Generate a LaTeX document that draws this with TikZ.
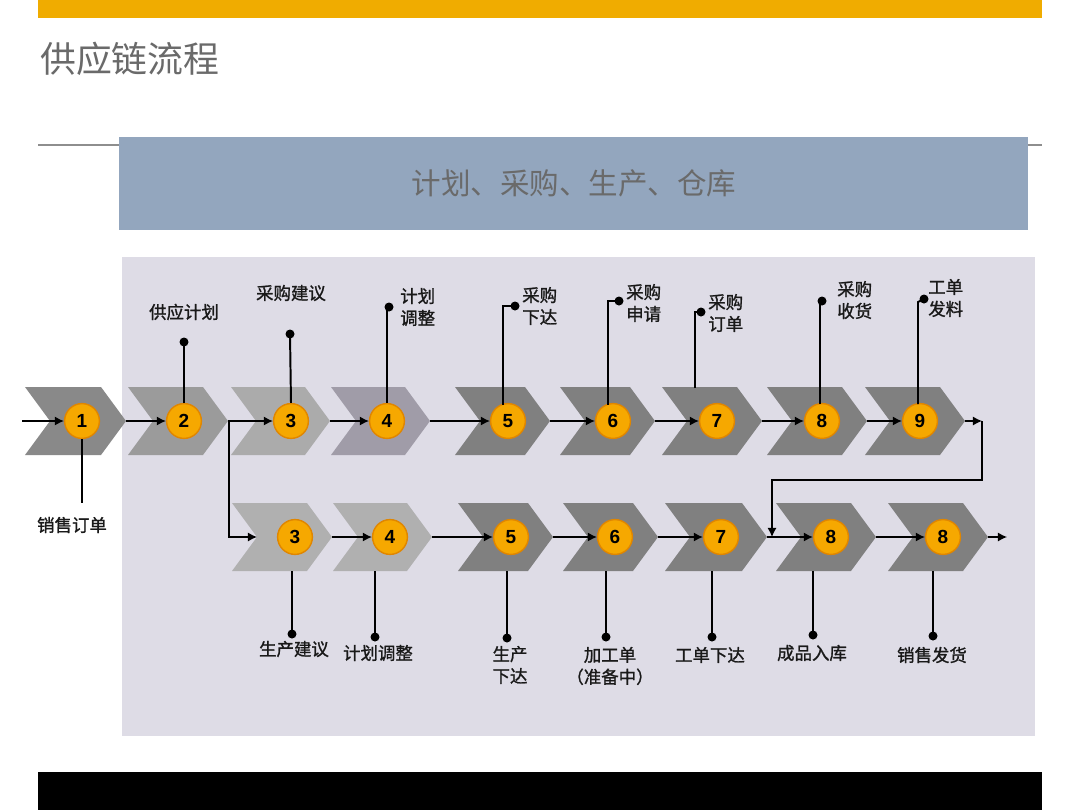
\documentclass[tikz,border=0pt]{standalone}
\usepackage{fontspec}
\setmainfont{Liberation Sans}
\newfontfamily\cjk{Noto Sans CJK SC}
\newfontfamily\cjkb{Noto Sans CJK SC}[FakeBold=1.2]
\usetikzlibrary{arrows.meta,calc}
\definecolor{topbar}{HTML}{F0AC00}
\definecolor{bluebox}{HTML}{93A6BE}
\definecolor{panel}{HTML}{DEDCE6}
\definecolor{titlegray}{HTML}{6A6A6A}
\definecolor{rulegray}{HTML}{8E8E8E}
\definecolor{chA}{HTML}{898989}
\definecolor{chB}{HTML}{9B9B9B}
\definecolor{chC}{HTML}{ABABAB}
\definecolor{chD}{HTML}{A09CA8}
\definecolor{chE}{HTML}{808080}
\definecolor{chF}{HTML}{B0B0B0}
\definecolor{numfill}{HTML}{F6A800}
\definecolor{numedge}{HTML}{E08600}
\newcommand\mychev[6]{%
  \fill[#6] (#2,#4) -- ({#3-25},#4) -- (#3,{(#4+#5)/2}) -- ({#3-25},#5) -- (#2,#5) -- ({#2+25},{(#4+#5)/2}) -- cycle;
  \coordinate (#1t) at (#3,{(#4+#5)/2});
  \coordinate (#1n) at ({#2+25},{(#4+#5)/2});
}
\begin{document}
\begin{tikzpicture}[x=0.025cm,y=-0.025cm,
  num/.style={circle,minimum size=0.87cm,inner sep=0pt,fill=numfill,draw=numedge,line width=1pt,
    font=\fontsize{13.5pt}{14pt}\selectfont\bfseries,text=black},
  arr/.style={-{Latex[length=6.5pt,width=6.5pt]},line width=0.9pt,black},
  call/.style={line width=1.4pt,black},
  dotc/.style={fill=black},
  lab/.style={font=\cjkb\fontsize{12.4pt}{15.6pt}\selectfont,text=black!90,inner sep=0pt},
  labl/.style={lab,align=left,anchor=west},
  labc/.style={lab,align=center}]
\useasboundingbox (0,0) rectangle (1080,810);
\fill[white] (0,0) rectangle (1080,810);
% header
\fill[topbar] (38,0) rectangle (1042,18);
\node[anchor=west,inner sep=0pt,text=titlegray,font=\cjk\fontsize{25.5pt}{28pt}\selectfont] (title) at (40,59) {供应链流程};
\draw[rulegray,line width=0.8pt] (38,145) -- (1042,145);
\fill[bluebox] (119,137) rectangle (1028,230);
\node[text=titlegray,font=\cjk\fontsize{21pt}{24pt}\selectfont,inner sep=0pt] (sub) at (574,183) {计划、采购、生产、仓库};
\fill[panel] (122,257) rectangle (1035,736);
\fill[black] (38,772) rectangle (1042,810);
% top chevrons
\mychev{a1}{25}{126}{387}{455}{chA}
\mychev{a2}{128}{228}{387}{455}{chB}
\mychev{a3}{231}{330}{387}{455}{chC}
\mychev{a4}{331}{430}{387}{455}{chD}
\mychev{a5}{455}{550}{387}{455}{chE}
\mychev{a6}{560}{655}{387}{455}{chE}
\mychev{a7}{662}{762}{387}{455}{chE}
\mychev{a8}{767}{867}{387}{455}{chE}
\mychev{a9}{865}{965}{387}{455}{chE}
% bottom chevrons
\mychev{b3}{232}{332}{503}{571}{chF}
\mychev{b4}{333}{432}{503}{571}{chF}
\mychev{b5}{458}{553}{503}{571}{chE}
\mychev{b6}{563}{658}{503}{571}{chE}
\mychev{b7}{665}{767}{503}{571}{chE}
\mychev{b8}{776}{876}{503}{571}{chE}
\mychev{b9}{888}{988}{503}{571}{chE}
% circles
\node[num] (ca1) at (82,421) {1};
\node[num] (ca2) at (184,421) {2};
\node[num] (ca3) at (291,421) {3};
\node[num] (ca4) at (387,421) {4};
\node[num] (ca5) at (508,421) {5};
\node[num] (ca6) at (613,421) {6};
\node[num] (ca7) at (717,421) {7};
\node[num] (ca8) at (822,421) {8};
\node[num] (ca9) at (920,421) {9};
\node[num] (cb3) at (295,537) {3};
\node[num] (cb4) at (390,537) {4};
\node[num] (cb5) at (511,537) {5};
\node[num] (cb6) at (615,537) {6};
\node[num] (cb7) at (721,537) {7};
\node[num] (cb8) at (831,537) {8};
\node[num] (cb9) at (943,537) {8};
% flow arrows top
\coordinate (start) at (22,421);
\draw[arr] (start) -- (ca1.west);
\draw[arr] (a1t) -- (ca2.west);
\draw[arr] (a2t) -- (ca3.west);
\draw[arr] (a3t) -- (ca4.west);
\draw[arr] (a4t) -- (ca5.west);
\draw[arr] (a5t) -- (ca6.west);
\draw[arr] (a6t) -- (ca7.west);
\draw[arr] (a7t) -- (ca8.west);
\draw[arr] (a8t) -- (ca9.west);
\coordinate (L1) at (982,421);
\coordinate (L2) at (982,480);
\coordinate (L3) at (772,537);
\draw[arr] (a9t) -- (L1);
\draw[arr] (L1) -- (L2) -| (L3);
% branch
\coordinate (br) at (229,421);
\draw[arr] (br) |- (b3n);
% flow arrows bottom
\draw[arr] (b3t) -- (cb4.west);
\draw[arr] (b4t) -- (cb5.west);
\draw[arr] (b5t) -- (cb6.west);
\draw[arr] (b6t) -- (cb7.west);
\draw[arr] (b7t) -- (cb8.west);
\draw[arr] (b8t) -- (cb9.west);
\coordinate (fin) at (1007,537);
\draw[arr] (b9t) -- (fin);
% top callouts
\coordinate (e1) at (82,503);
\draw[call] (ca1.south) -- (e1);
\node[labc] (l1) at (72,525) {销售订单};
\coordinate (d2) at (184,342);
\draw[call] (ca2.north) -- (d2); \fill[dotc] (d2) circle (4.5);
\node[labc] (l2) at (184,312) {供应计划};
\coordinate (d3) at (290,334);
\draw[call] (ca3.north) -- (d3); \fill[dotc] (d3) circle (4.5);
\node[labc] (l3) at (291,293) {采购建议};
\coordinate (d4) at (389,307);
\draw[call] (ca4.north) -- (ca4.north |- d4); \fill[dotc] (d4) circle (4.5);
\node[labl] (l4) at (400,307) {计划\\调整};
\coordinate (d5) at (515,306);
\draw[call] ($(ca5.center)+(-5,-16.5)$) |- (d5); \fill[dotc] (d5) circle (4.5);
\node[labl] (l5) at (522,306) {采购\\下达};
\coordinate (d6) at (619,301);
\draw[call] ($(ca6.center)+(-5,-16.5)$) |- (d6); \fill[dotc] (d6) circle (4.5);
\node[labl] (l6) at (626,303) {采购\\申请};
\coordinate (k7) at (695,388);
\coordinate (d7) at (701,312);
\draw[call] (k7) |- (d7); \fill[dotc] (d7) circle (4.5);
\node[labl] (l7) at (708,313) {采购\\订单};
\coordinate (d8) at (822,301);
\draw[call] ($(ca8.center)+(-2,-17)$) -- ++(0,-103) -- (d8); \fill[dotc] (d8) circle (4.5);
\node[labl] (l8) at (837,300) {采购\\收货};
\coordinate (d9) at (924,299);
\draw[call] ($(ca9.center)+(-2,-17)$) -- ++(0,-102) -- (d9); \fill[dotc] (d9) circle (4.5);
\node[labl] (l9) at (928,298) {工单\\发料};
% bottom callouts
\coordinate (k3) at (292,571); \coordinate (f3) at (292,634);
\draw[call] (k3) -- (f3); \fill[dotc] (f3) circle (4.5);
\node[labc] (m3) at (294,649) {生产建议};
\coordinate (k4) at (375,571); \coordinate (f4) at (375,637);
\draw[call] (k4) -- (f4); \fill[dotc] (f4) circle (4.5);
\node[labc] (m4) at (378,653) {计划调整};
\coordinate (k5) at (507,571); \coordinate (f5) at (507,638);
\draw[call] (k5) -- (f5); \fill[dotc] (f5) circle (4.5);
\node[labc] (m5) at (510,665) {生产\\下达};
\coordinate (k6) at (606,571); \coordinate (f6) at (606,637);
\draw[call] (k6) -- (f6); \fill[dotc] (f6) circle (4.5);
\node[labc] (m6) at (610,666) {加工单\\（准备中）};
\coordinate (k7b) at (712,571); \coordinate (f7) at (712,637);
\draw[call] (k7b) -- (f7); \fill[dotc] (f7) circle (4.5);
\node[labc] (m7) at (710,655) {工单下达};
\coordinate (k8) at (813,571); \coordinate (f8) at (813,635);
\draw[call] (k8) -- (f8); \fill[dotc] (f8) circle (4.5);
\node[labc] (m8) at (812,653) {成品入库};
\coordinate (k9) at (933,571); \coordinate (f9) at (933,636);
\draw[call] (k9) -- (f9); \fill[dotc] (f9) circle (4.5);
\node[labc] (m9) at (932,655) {销售发货};
\end{tikzpicture}
\end{document}
